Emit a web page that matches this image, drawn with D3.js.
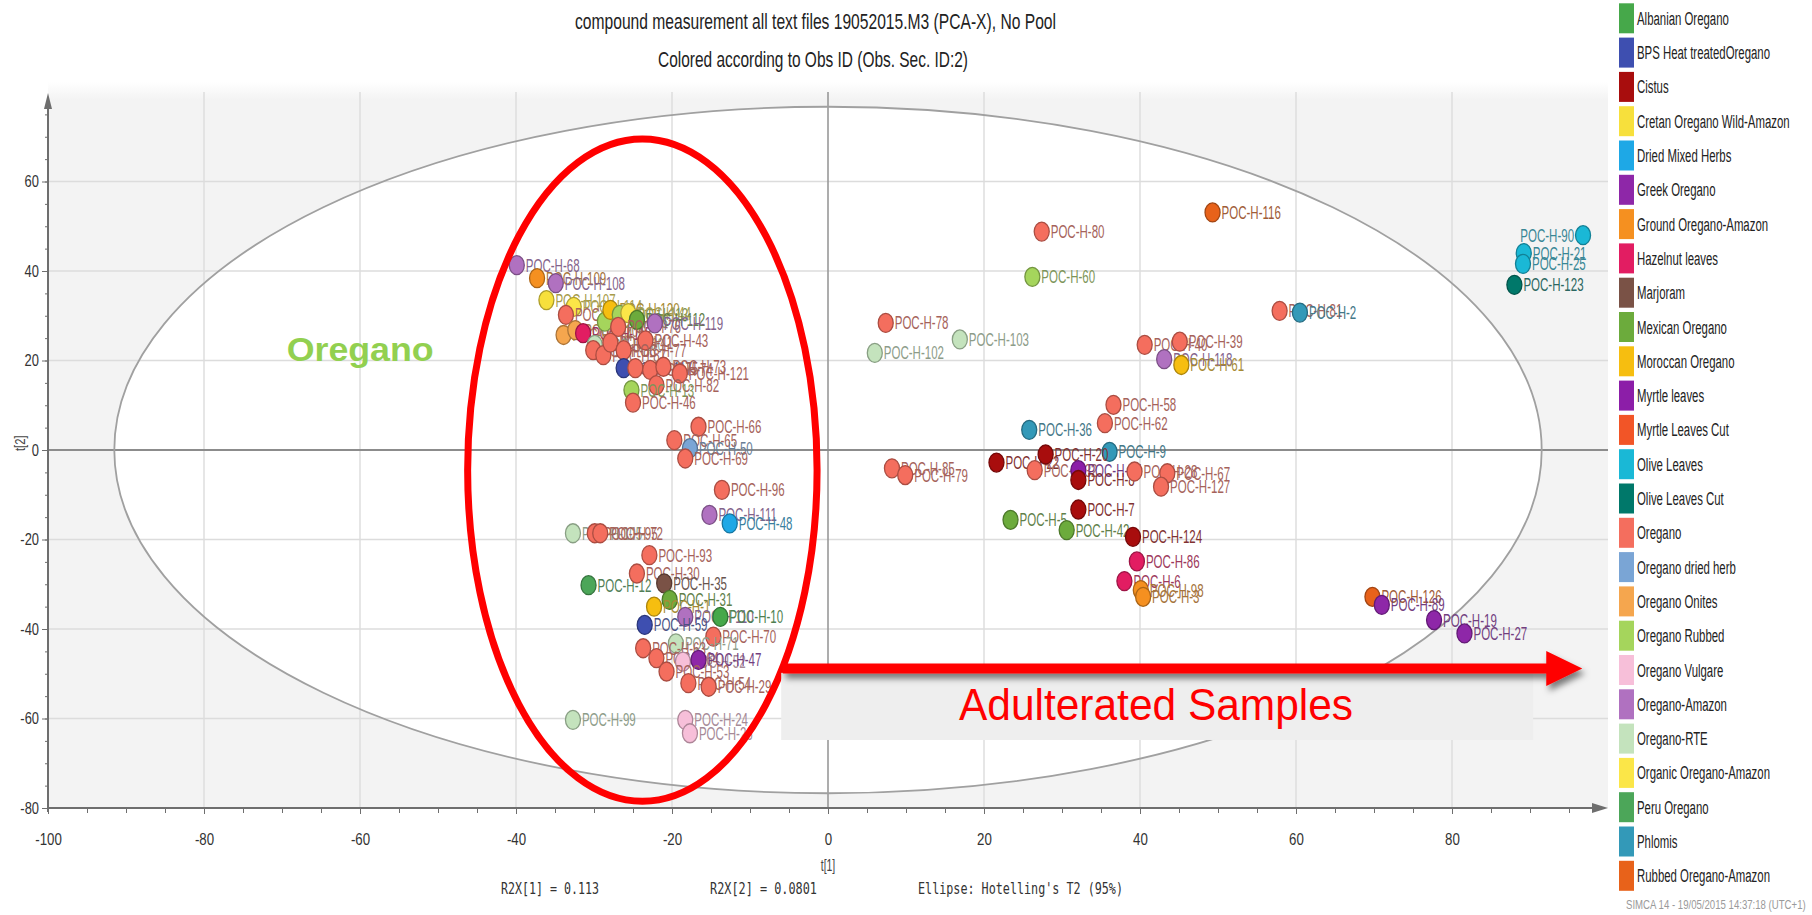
<!DOCTYPE html>
<html><head><meta charset="utf-8">
<script src="https://cdn.jsdelivr.net/npm/d3@7"></script>
<style>
html,body{margin:0;padding:0;background:#fff;}
svg{display:block;font-family:"Liberation Sans",Arial,sans-serif;}
</style></head><body>
<svg id="chart" width="1812" height="915"></svg>
<script>
// ---------- data ----------
const titleLines = ["compound measurement all text files 19052015.M3 (PCA-X), No Pool",
                    "Colored according to Obs ID (Obs. Sec. ID:2)"];
const categories = ["Albanian Oregano","BPS Heat treatedOregano","Cistus","Cretan Oregano Wild-Amazon",
  "Dried Mixed Herbs","Greek Oregano","Ground Oregano-Amazon","Hazelnut leaves","Marjoram",
  "Mexican Oregano","Moroccan Oregano","Myrtle leaves","Myrtle Leaves Cut","Olive Leaves",
  "Olive Leaves Cut","Oregano","Oregano dried herb","Oregano Onites","Oregano Rubbed",
  "Oregano Vulgare","Oregano-Amazon","Oregano-RTE","Organic Oregano-Amazon","Peru Oregano",
  "Phlomis","Rubbed Oregano-Amazon"];
const categoryColors = ["#46a84a","#3e4fb0","#a80d0d","#f7e03c","#1ea8e6","#8e27a8","#f59020",
  "#e21d62","#7a5246","#6cab3c","#f6be10","#8c1ea8","#f25527","#1ab8d6","#00786a","#f46e5e",
  "#7aa5d5","#f5a64e","#a5d55c","#f7bfd9","#b071c0","#c4e3bd","#fbe648","#4ca659","#3399b8","#e8621a"];
const xTicks = [-100,-80,-60,-40,-20,0,20,40,60,80];
const yTicks = [-80,-60,-40,-20,0,20,40,60];
const xLabel = "t[1]", yLabel = "t[2]";
const statTexts = ["R2X[1] = 0.113","R2X[2] = 0.0801","Ellipse: Hotelling's T2 (95%)"];
const hotelling = [91.5, 76.7];   // semi-axes of T2 ellipse (t1, t2)
// [observation, class, t[1], t[2]]
const scores = [
 ["POC-H-116","Rubbed Oregano-Amazon",49.3,53.1],
 ["POC-H-80","Oregano",27.4,48.8],
 ["POC-H-60","Oregano Rubbed",26.2,38.7],
 ["POC-H-78","Oregano",7.4,28.4],
 ["POC-H-103","Oregano-RTE",16.9,24.7],
 ["POC-H-102","Oregano-RTE",6.0,21.7],
 ["POC-H-40","Oregano",40.6,23.5],
 ["POC-H-39","Oregano",45.1,24.2],
 ["POC-H-118","Oregano-Amazon",43.1,20.3],
 ["POC-H-61","Moroccan Oregano",45.3,19.0],
 ["POC-H-81","Oregano",57.9,31.1],
 ["POC-H-2","Phlomis",60.5,30.7],
 ["POC-H-58","Oregano",36.6,10.1],
 ["POC-H-62","Oregano",35.5,6.0],
 ["POC-H-36","Phlomis",25.8,4.5],
 ["POC-H-9","Phlomis",36.1,-0.4],
 ["POC-H-85","Oregano",8.2,-4.1],
 ["POC-H-79","Oregano",9.9,-5.6],
 ["POC-H-22","Cistus",21.6,-2.8],
 ["POC-H-32","Oregano",26.5,-4.5],
 ["POC-H-20","Cistus",27.9,-1.0],
 ["POC-H-17","Myrtle leaves",32.1,-4.5],
 ["POC-H-8","Cistus",32.1,-6.7],
 ["POC-H-7","Cistus",32.1,-13.3],
 ["POC-H-28","Oregano",39.3,-4.8],
 ["POC-H-67","Oregano",43.5,-5.2],
 ["POC-H-127","Oregano",42.7,-8.2],
 ["POC-H-5","Mexican Oregano",23.4,-15.6],
 ["POC-H-42","Mexican Oregano",30.6,-17.9],
 ["POC-H-124","Cistus",39.1,-19.4],
 ["POC-H-86","Hazelnut leaves",39.6,-24.9],
 ["POC-H-6","Hazelnut leaves",38.0,-29.3],
 ["POC-H-98","Ground Oregano-Amazon",40.1,-31.3],
 ["POC-H-3","Ground Oregano-Amazon",40.4,-32.8],
 ["POC-H-126","Rubbed Oregano-Amazon",69.8,-32.8],
 ["POC-H-89","Greek Oregano",71.0,-34.6],
 ["POC-H-19","Greek Oregano",77.7,-38.0],
 ["POC-H-27","Greek Oregano",81.6,-41.0],
 ["POC-H-90","Olive Leaves",96.8,48.0],
 ["POC-H-21","Olive Leaves",89.2,44.0],
 ["POC-H-25","Olive Leaves",89.1,41.6],
 ["POC-H-123","Olive Leaves Cut",88.0,36.9],
 ["POC-H-68","Oregano-Amazon",-39.9,41.3],
 ["POC-H-109","Ground Oregano-Amazon",-37.3,38.4],
 ["POC-H-108","Oregano-Amazon",-34.9,37.3],
 ["POC-H-107","Cretan Oregano Wild-Amazon",-36.1,33.5],
 ["POC-H-114","Organic Oregano-Amazon",-32.6,32.0],
 ["POC-H-101","Oregano",-33.6,30.2],
 ["POC-H-104","Oregano Onites",-33.9,25.7],
 ["POC-H-106","Oregano Onites",-32.4,26.8],
 ["POC-H-115","Hazelnut leaves",-31.4,26.1],
 ["POC-H-100","Oregano-RTE",-29.9,23.5],
 ["POC-H-88","Oregano",-30.1,22.3],
 ["POC-H-87","Oregano",-28.8,21.2],
 ["POC-H-45","Oregano Rubbed",-28.6,28.7],
 ["POC-H-120","Moroccan Oregano",-27.9,31.3],
 ["POC-H-113","Oregano Rubbed",-26.7,30.2],
 ["POC-H-44","Organic Oregano-Amazon",-25.6,30.6],
 ["POC-H-112","Mexican Oregano",-24.5,29.1],
 ["POC-H-76","Oregano",-26.9,27.5],
 ["POC-H-41","Oregano",-27.9,24.0],
 ["POC-H-43","Oregano",-23.4,24.5],
 ["POC-H-119","Oregano-Amazon",-22.2,28.3],
 ["POC-H-77","Oregano",-26.2,22.3],
 ["POC-H-117","BPS Heat treatedOregano",-26.2,18.3],
 ["POC-H-75","Oregano",-24.7,18.3],
 ["POC-H-74","Oregano",-22.8,17.9],
 ["POC-H-73","Oregano",-21.1,18.6],
 ["POC-H-121","Oregano",-19.0,17.1],
 ["POC-H-82","Oregano",-22.0,14.5],
 ["POC-H-13","Oregano Rubbed",-25.2,13.4],
 ["POC-H-46","Oregano",-25.0,10.6],
 ["POC-H-66","Oregano",-16.6,5.2],
 ["POC-H-65","Oregano",-19.7,2.2],
 ["POC-H-50","Oregano dried herb",-17.7,0.4],
 ["POC-H-69","Oregano",-18.3,-1.9],
 ["POC-H-96","Oregano",-13.6,-8.9],
 ["POC-H-111","Oregano-Amazon",-15.2,-14.5],
 ["POC-H-48","Dried Mixed Herbs",-12.6,-16.4],
 ["POC-H-105","Oregano-RTE",-32.7,-18.6],
 ["POC-H-95","Oregano",-29.9,-18.6],
 ["POC-H-72","Oregano",-29.2,-18.6],
 ["POC-H-93","Oregano",-22.9,-23.5],
 ["POC-H-12","Peru Oregano",-30.7,-30.2],
 ["POC-H-30","Oregano",-24.5,-27.6],
 ["POC-H-35","Marjoram",-21.0,-29.8],
 ["POC-H-31","Mexican Oregano",-20.3,-33.5],
 ["POC-H-1","Moroccan Oregano",-22.3,-35.0],
 ["POC-H-110","Oregano-Amazon",-18.3,-37.3],
 ["POC-H-10","Albanian Oregano",-13.8,-37.3],
 ["POC-H-59","BPS Heat treatedOregano",-23.5,-39.1],
 ["POC-H-70","Oregano",-14.7,-41.7],
 ["POC-H-71","Oregano-RTE",-19.5,-43.2],
 ["POC-H-63","Oregano",-23.7,-44.3],
 ["POC-H-64","Oregano",-22.0,-46.5],
 ["POC-H-52","Oregano Vulgare",-18.6,-47.3],
 ["POC-H-47","Greek Oregano",-16.6,-46.9],
 ["POC-H-53","Oregano",-20.7,-49.5],
 ["POC-H-54","Oregano",-17.9,-52.1],
 ["POC-H-29","Oregano",-15.3,-52.9],
 ["POC-H-99","Oregano-RTE",-32.7,-60.3],
 ["POC-H-24","Oregano Vulgare",-18.3,-60.3],
 ["POC-H-26","Oregano Vulgare",-17.7,-63.3]
];
// annotations (in t[1], t[2] units)
const oreganoNote = {text:"Oregano", t1:-69.4, t2:19.8};
const adultNote = {text:"Adulterated Samples", t1:16.8, t2:-60.3};
const ringNote = {t1:-23.8, t2:-4.5, r1:22.4, r2:74};
const arrowNote = {from:-5.8, to:96.7, t2:-48.8};
const boxNote = {x0:-6.0, x1:90.4, y0:-49.8, y1:-64.8};
const footer = "SIMCA 14 - 19/05/2015 14:37:18 (UTC+1)";

// ---------- drawing ----------
const svg = d3.select("#chart");
const x = d3.scaleLinear().domain([-100,100]).range([48,1608]);
const y = d3.scaleLinear().domain([-80,80]).range([808,92]);
const color = d3.scaleOrdinal().domain(categories).range(categoryColors);

function narrow(sel, f){
  sel.each(function(){
    const w = this.getComputedTextLength();
    this.setAttribute("textLength", w*f);
    this.setAttribute("lengthAdjust","spacingAndGlyphs");
  });
}
function fitTo(sel, w){ sel.attr("textLength", w).attr("lengthAdjust","spacingAndGlyphs"); }

const defs = svg.append("defs");
const grad = defs.append("linearGradient").attr("id","bgGrad").attr("x1",0).attr("y1",0).attr("x2",0).attr("y2",1);
grad.append("stop").attr("offset","0%").attr("stop-color","#ffffff");
grad.append("stop").attr("offset","2.5%").attr("stop-color","#f3f3f3");
grad.append("stop").attr("offset","100%").attr("stop-color","#f3f3f3");
const sh = defs.append("filter").attr("id","shadow").attr("x","-10%").attr("y","-80%").attr("width","120%").attr("height","260%");
sh.append("feDropShadow").attr("dx",3).attr("dy",5).attr("stdDeviation",3)
  .attr("flood-color","#000").attr("flood-opacity",0.5);

// plot background
svg.append("rect").attr("x",x(-100)).attr("y",y(80)-10)
  .attr("width",x(100)-x(-100)).attr("height",y(-80)-y(80)+10).attr("fill","url(#bgGrad)");

// Hotelling ellipse fill
svg.append("ellipse").attr("cx",x(0)).attr("cy",y(0))
  .attr("rx",x(hotelling[0])-x(0)).attr("ry",y(0)-y(hotelling[1])).attr("fill","#fff");

// grid
const grid = svg.append("g");
grid.selectAll("line.gx").data(xTicks.filter(v=>v>-100 && v!==0)).join("line")
  .attr("x1",d=>x(d)).attr("x2",d=>x(d)).attr("y1",y(80)).attr("y2",y(-80))
  .attr("stroke","#dcdcdc").attr("stroke-width",1.4);
grid.selectAll("line.gy").data(yTicks.filter(v=>v>-80 && v!==0)).join("line")
  .attr("y1",d=>y(d)).attr("y2",d=>y(d)).attr("x1",x(-100)).attr("x2",x(100))
  .attr("stroke","#dcdcdc").attr("stroke-width",1.4);
grid.append("line").attr("x1",x(0)).attr("x2",x(0)).attr("y1",y(80)).attr("y2",y(-80))
  .attr("stroke","#999").attr("stroke-width",1.6);
grid.append("line").attr("y1",y(0)).attr("y2",y(0)).attr("x1",x(-100)).attr("x2",x(100))
  .attr("stroke","#8c8c8c").attr("stroke-width",2);

// Hotelling ellipse outline
svg.append("ellipse").attr("cx",x(0)).attr("cy",y(0))
  .attr("rx",x(hotelling[0])-x(0)).attr("ry",y(0)-y(hotelling[1]))
  .attr("fill","none").attr("stroke","#a0a0a0").attr("stroke-width",1.8);

// axes
const axisCol = "#6e6e6e";
const minorX = d3.range(-100, 100, 5), minorY = d3.range(-80, 80, 5);
const gxMinor = svg.append("g").attr("transform",`translate(0,${y(-80)})`)
  .call(d3.axisBottom(x).tickValues(minorX).tickSize(5).tickFormat(""));
const gx = svg.append("g").attr("transform",`translate(0,${y(-80)})`)
  .call(d3.axisBottom(x).tickValues(xTicks).tickSize(6).tickPadding(19).tickFormat(d=>String(d)));
const gyMinor = svg.append("g").attr("transform",`translate(${x(-100)},0)`)
  .call(d3.axisLeft(y).tickValues(minorY).tickSize(3).tickFormat(""));
const gy = svg.append("g").attr("transform",`translate(${x(-100)},0)`)
  .call(d3.axisLeft(y).tickValues(yTicks).tickSize(6).tickPadding(3).tickFormat(d=>String(d)));
[gxMinor,gx,gyMinor,gy].forEach(g=>{ g.select(".domain").remove(); g.selectAll("line").attr("stroke",axisCol); });
gx.selectAll("text").attr("fill","#333").style("font-size","17px");
gy.selectAll("text").attr("fill","#333").style("font-size","17px");
narrow(gx.selectAll("text"),0.78);
narrow(gy.selectAll("text"),0.76);

// axis lines with arrows
svg.append("line").attr("x1",x(-100)).attr("x2",x(100)-14).attr("y1",y(-80)).attr("y2",y(-80))
  .attr("stroke",axisCol).attr("stroke-width",2);
svg.append("path").attr("d",`M${x(100)},${y(-80)} L${x(100)-16},${y(-80)-5} L${x(100)-16},${y(-80)+5} Z`).attr("fill",axisCol);
svg.append("line").attr("x1",x(-100)).attr("x2",x(-100)).attr("y1",y(-80)+4).attr("y2",y(80)+14)
  .attr("stroke",axisCol).attr("stroke-width",2);
svg.append("path").attr("d",`M${x(-100)},${y(80)+1} L${x(-100)-4},${y(80)+17} L${x(-100)+4},${y(80)+17} Z`).attr("fill",axisCol);

// axis titles
const xl = svg.append("text").attr("x",x(0)).attr("y",871).attr("text-anchor","middle")
  .attr("fill","#444").style("font-size","16px").text(xLabel);
narrow(xl,0.65);
const yl = svg.append("text").attr("transform",`translate(25,${y(1.5)}) rotate(-90)`).attr("text-anchor","middle")
  .attr("fill","#444").style("font-size","15px").text(yLabel);
narrow(yl,0.75);

// stats
const statX = [501, 710, 918], statW = [98, 107, 205];
svg.selectAll("text.stat").data(statTexts).join("text").attr("class","stat")
  .attr("x",(d,i)=>statX[i]).attr("y",894)
  .attr("fill","#333").style("font-family","'DejaVu Sans Mono','Liberation Mono',monospace").style("font-size","15px")
  .text(d=>d).each(function(d,i){ fitTo(d3.select(this), statW[i]); });

// title
svg.selectAll("text.title").data(titleLines).join("text").attr("class","title")
  .attr("x",(d,i)=>[815.5,813][i]).attr("y",(d,i)=>[29,67][i]).attr("text-anchor","middle")
  .attr("fill","#222").style("font-size","22px").text(d=>d)
  .each(function(d,i){ fitTo(d3.select(this), [481,310][i]); });

// points
const pts = svg.append("g").selectAll("g").data(scores).join("g")
  .attr("transform", d=>`translate(${x(d[2])},${y(d[3])})`);
pts.append("ellipse").attr("rx",7.5).attr("ry",9.5)
  .attr("fill", d=>color(d[1]))
  .attr("stroke", d=>d3.color(color(d[1])).darker(1).formatHex())
  .attr("stroke-width",1.3);
pts.append("text")
  .attr("transform", d=>`translate(${d[2] > 93 ? -9 : 9},6.5) scale(0.64,1)`)
  .attr("text-anchor", d=> d[2] > 93 ? "end" : "start")
  .attr("fill", d=>d3.interpolateRgb(color(d[1]),"#555555")(0.5))
  .style("font-size","18px").text(d=>d[0]);

// legend
const leg = svg.append("g").selectAll("g").data(categories).join("g")
  .attr("transform",(d,i)=>`translate(1619,${18.3 + 34.3*i})`);
leg.append("rect").attr("x",0).attr("y",-15).attr("width",15).attr("height",30).attr("fill",d=>color(d));
leg.append("text").attr("transform","translate(18,6.5) scale(0.6,1)").attr("fill","#222")
  .style("font-size","19px").text(d=>d);

// footer
const ft = svg.append("text").attr("fill","#9a9a9a").style("font-size","12px").text(footer);
const ftW = ft.node().getComputedTextLength();
ft.attr("transform",`translate(1626,909) scale(${180/ftW},1)`);

// ---------- annotations ----------
svg.append("ellipse").attr("cx",x(ringNote.t1)).attr("cy",y(ringNote.t2))
  .attr("rx",x(ringNote.t1+ringNote.r1)-x(ringNote.t1)).attr("ry",y(ringNote.t2-ringNote.r2)-y(ringNote.t2))
  .attr("fill","none").attr("stroke","#ff0000").attr("stroke-width",7);

const on = svg.append("text").attr("x",x(oreganoNote.t1)).attr("y",y(oreganoNote.t2))
  .attr("fill","#92d050").style("font-weight","bold").style("font-size","34px").text(oreganoNote.text);
fitTo(on, 147);

svg.append("rect").attr("x",x(boxNote.x0)).attr("y",y(boxNote.y0))
  .attr("width",x(boxNote.x1)-x(boxNote.x0)).attr("height",y(boxNote.y1)-y(boxNote.y0)).attr("fill","#eeeeee");

const ay = y(arrowNote.t2), ax0 = x(arrowNote.from), ax1 = x(arrowNote.to);
svg.append("path").attr("filter","url(#shadow)").attr("fill","#ff0000")
  .attr("d",`M${ax0},${ay-5} L${ax1-36},${ay-5} L${ax1-36},${ay-17.5} L${ax1},${ay} L${ax1-36},${ay+17.5} L${ax1-36},${ay+5} L${ax0},${ay+5} Z`);

const an = svg.append("text").attr("x",x(adultNote.t1)).attr("y",y(adultNote.t2))
  .attr("fill","#ff0000").style("font-size","44px").text(adultNote.text);
fitTo(an, 394);
</script>
</body></html>
